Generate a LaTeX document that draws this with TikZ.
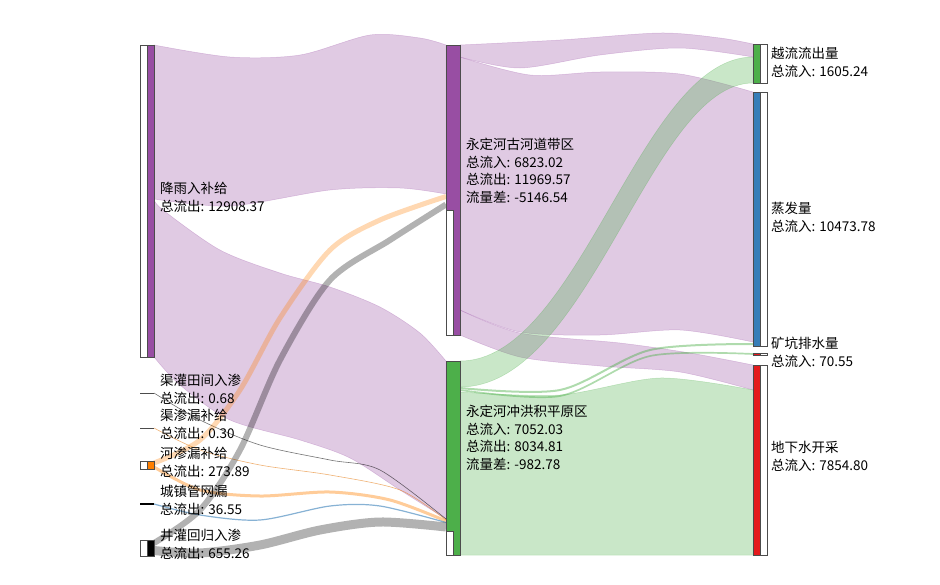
\documentclass[tikz,border=0pt]{standalone}
\usepackage{fontspec}
\setmainfont{Noto Sans CJK SC}
\definecolor{cpur}{HTML}{984EA3}
\definecolor{cgrn}{HTML}{4DAF4A}
\definecolor{cblu}{HTML}{377EB8}
\definecolor{cred}{HTML}{E41A1C}
\definecolor{corg}{HTML}{FF7F00}
\tikzset{
 nodebar/.style={draw=black!70,line width=0.8pt},
 lbl/.style={anchor=north west,align=left,inner sep=0pt,font=\fontsize{13.5}{17.5}\selectfont},
 pband/.style={fill=cpur,fill opacity=0.3,draw=cpur,draw opacity=0.3,line width=0.5pt},
 gband/.style={fill=cgrn,fill opacity=0.3,draw=cgrn,draw opacity=0.3,line width=0.5pt},
}
\begin{document}
\begin{tikzpicture}[x=1pt,y=-1pt]
\useasboundingbox (0,0) rectangle (940,584);
% ---- flows ----
\fill[pband] plot[smooth] coordinates{(154,45)(230,57)(300,55)(370,35)(420,38)(446,45)} -- plot[smooth] coordinates{(446,194)(400,188)(330,190)(230,206)(154,199)} -- cycle;
\fill[pband] plot[smooth] coordinates{(154,199)(163,210)(220,250)(280,273)(330,287)(380,307)(420,333)(446,361)} -- plot[smooth] coordinates{(446,519)(400,490)(350,458)(300,440)(230,420)(180,385)(154,357)} -- cycle;
\fill[pband] plot[smooth] coordinates{(460,45)(560,40)(660,33)(720,38)(753,44)} -- plot[smooth] coordinates{(753,57)(680,48)(600,55)(520,68)(460,57)} -- cycle;
\fill[pband] plot[smooth] coordinates{(460,57)(530,75)(600,72)(680,74)(753,92)} -- plot[smooth] coordinates{(753,342)(680,330)(600,335)(520,332)(460,310)} -- cycle;
\fill[pband] plot[smooth] coordinates{(460,310)(520,333)(620,343)(690,353)(753,365)} -- plot[smooth] coordinates{(753,390)(680,372)(600,366)(520,357)(460,335)} -- cycle;
\fill[gband] (460,361) .. controls (580,361) and (640,57) .. (753,57) -- (753,83) .. controls (650,83) and (590,387) .. (460,387) -- cycle;
\draw[cgrn,opacity=0.45,line width=2pt] plot[smooth] coordinates{(460,388)(560,390)(650,350)(753,344)};
\draw[cgrn,opacity=0.45,line width=1.7pt] plot[smooth] coordinates{(460,390)(560,396)(650,356)(753,354)};
\fill[gband] plot[smooth] coordinates{(460,392)(560,395)(660,378)(753,390)} -- (753,555) -- (460,555) -- cycle;
% small inflows
\draw[black,opacity=0.55,line width=0.6pt] plot[smooth] coordinates{(154,393)(200,420)(260,445)(330,460)(380,470)(446,519)};
\draw[corg!60!brown,opacity=0.6,line width=0.6pt] plot[smooth] coordinates{(154,428)(200,450)(260,465)(330,475)(400,490)(446,520)};
\draw[corg,opacity=0.4,line width=3pt] plot[smooth] coordinates{(154,467)(200,490)(260,496)(330,492)(390,500)(446,521)};
\draw[cblu,opacity=0.6,line width=1.2pt] plot[smooth] coordinates{(154,504)(200,515)(260,520)(330,506)(380,506)(446,522.5)};
\draw[corg,opacity=0.3,line width=5pt] plot[smooth] coordinates{(154,463)(200,440)(240,390)(280,318)(330,250)(380,220)(446,196.5)};
\draw[black,opacity=0.3,line width=6pt] plot[smooth] coordinates{(154,543)(200,510)(240,450)(280,360)(330,280)(390,240)(446,204.5)};
\draw[black,opacity=0.3,line width=9pt] plot[smooth] coordinates{(154,550.5)(200,553)(260,545)(320,530)(380,522)(446,527)};
% ---- nodes ----
\draw[nodebar,fill=white] (140,45) rectangle (147,357);
\draw[nodebar,fill=cpur] (147,45) rectangle (154,357) node[midway,inner sep=0pt] (rain) {};
\draw[black!70,line width=0.8pt] (140,393) -- (154,393) coordinate (qg);
\draw[black!70,line width=0.8pt] (140,428) -- (154,428) coordinate (qs);
\draw[nodebar,fill=white] (140,461) rectangle (147,469);
\draw[nodebar,fill=corg] (147,461) rectangle (154,469) node[midway,inner sep=0pt] (hs) {};
\draw[black,line width=1.2pt] (140,504) -- (154,504) coordinate (cz);
\draw[nodebar,fill=white] (140,540) rectangle (147,556);
\draw[nodebar,fill=black] (147,540) rectangle (154,556) node[midway,inner sep=0pt] (jg) {};
\draw[nodebar,fill=cpur] (446,45) rectangle (460,335) node[midway,inner sep=0pt] (gh) {};
\draw[nodebar,fill=white] (446,210) rectangle (453,335);
\draw[nodebar,fill=cgrn] (446,361) rectangle (460,555) node[midway,inner sep=0pt] (ph) {};
\draw[nodebar,fill=white] (446,531) rectangle (453,555);
\draw[nodebar,fill=cgrn] (753,44) rectangle (760,83) node[midway,inner sep=0pt] (yl) {};
\draw[nodebar,fill=white] (760,44) rectangle (767,83);
\draw[nodebar,fill=cblu] (753,92) rectangle (760,346) node[midway,inner sep=0pt] (zf) {};
\draw[nodebar,fill=white] (760,92) rectangle (767,346);
\draw[nodebar,fill=cred] (753,353.5) rectangle (760,355.5) node[midway,inner sep=0pt] (kk) {};
\draw[nodebar,fill=white] (760,353.5) rectangle (767,355.5);
\draw[nodebar,fill=cred] (753,365) rectangle (760,555) node[midway,inner sep=0pt] (dx) {};
\draw[nodebar,fill=white] (760,365) rectangle (767,555);
% ---- labels ----
\node[lbl] (l1) at (160,182) {降雨入补给\\总流出: 12908.37};
\node[lbl] (l2) at (160,374) {渠灌田间入渗\\总流出: 0.68};
\node[lbl] (l3) at (160,409) {渠渗漏补给\\总流出: 0.30};
\node[lbl] (l4) at (160,447) {河渗漏补给\\总流出: 273.89};
\node[lbl] (l5) at (160,485) {城镇管网漏\\总流出: 36.55};
\node[lbl] (l6) at (160,529) {井灌回归入渗\\总流出: 655.26};
\node[lbl] (l7) at (466,138) {永定河古河道带区\\总流入: 6823.02\\总流出: 11969.57\\流量差: -5146.54};
\node[lbl] (l8) at (466,405) {永定河冲洪积平原区\\总流入: 7052.03\\总流出: 8034.81\\流量差: -982.78};
\node[lbl] (l9) at (771,47) {越流流出量\\总流入: 1605.24};
\node[lbl] (l10) at (771,202) {蒸发量\\总流入: 10473.78};
\node[lbl] (l11) at (771,337) {矿坑排水量\\总流入: 70.55};
\node[lbl] (l12) at (771,441) {地下水开采\\总流入: 7854.80};
\end{tikzpicture}
\end{document}
